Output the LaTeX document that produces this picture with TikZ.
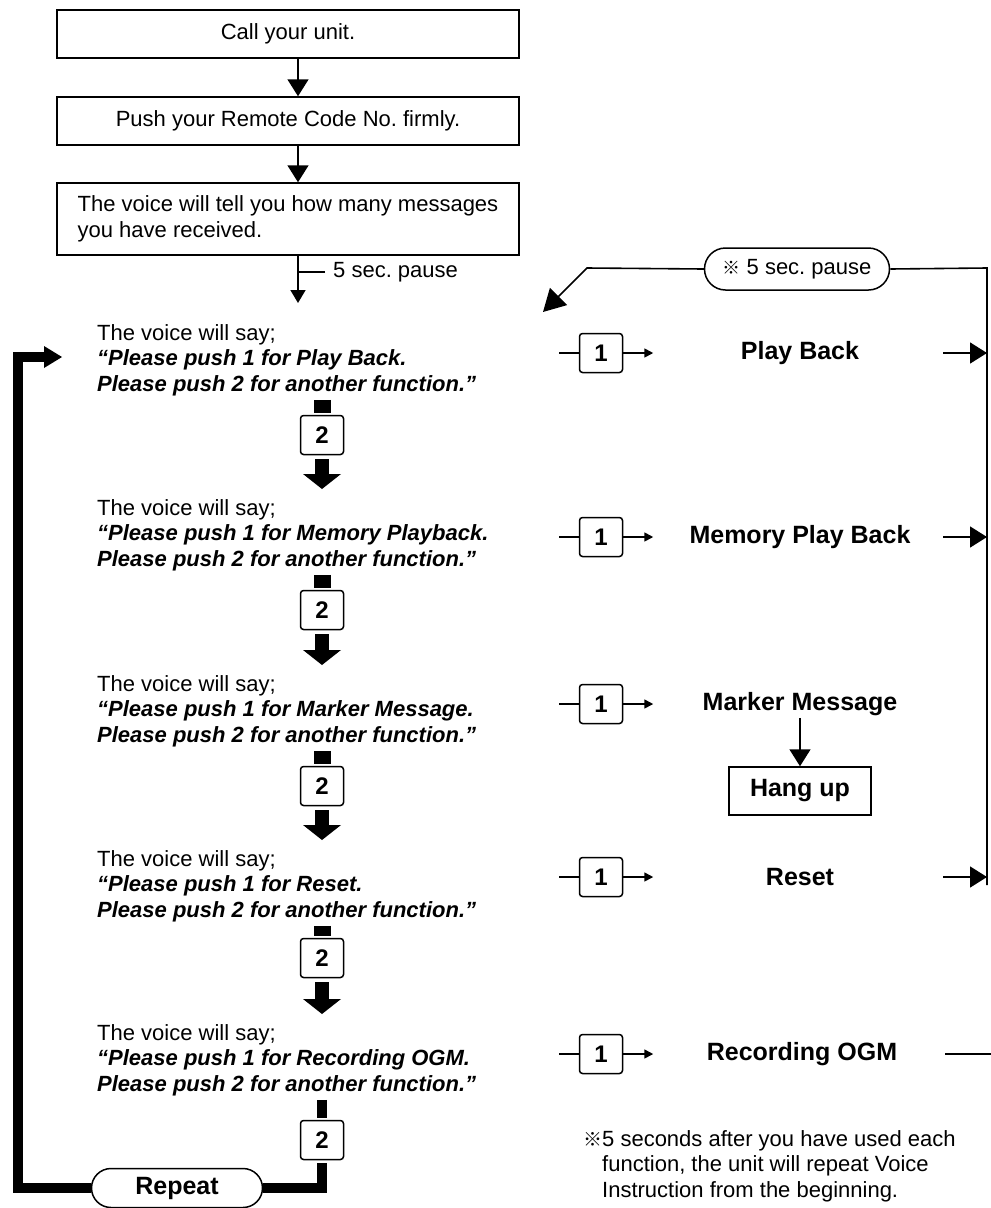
\documentclass[tikz,border=0pt]{standalone}
\usepackage{fontspec}
\setmainfont{Liberation Sans}
\newfontfamily\refmk{Noto Sans CJK JP}
\usetikzlibrary{arrows.meta,positioning,calc,shapes.misc}
\frenchspacing
\newcommand{\txt}{\fontsize{22}{25.5}\selectfont}
\newcommand{\fn}{\fontsize{25}{30}\selectfont\bfseries}
\newcommand{\bi}[1]{\textbf{\textit{#1}}}
\tikzset{
  caja/.style={draw, line width=1.5pt, minimum width=462pt, minimum height=48pt, inner sep=0pt, font=\txt},
  voz/.style={anchor=north west, align=left, inner sep=0pt, font=\txt},
  tecla/.style={draw, rounded corners=3pt, line width=1.5pt, minimum width=43pt, minimum height=39pt, inner sep=0pt, font=\fontsize{24}{28}\selectfont\bfseries},
  func/.style={inner sep=0pt, font=\fn},
  ovalo/.style={draw, rounded rectangle, line width=1.5pt, inner sep=0pt},
  fino/.style={line width=1.6pt},
  fl/.style={-{Triangle[length=17pt,width=21pt]}, line width=1.6pt},
  flp/.style={-{Triangle[length=13pt,width=15pt]}, line width=1.6pt},
  flc/.style={-{Triangle[length=9pt,width=9pt]}, line width=1.6pt},
  flg/.style={-{Triangle[length=22pt,width=24pt]}, line width=1.6pt},
  fg/.style={-{Triangle[length=15pt,width=38pt,line width=0pt]}, line width=14pt},
  tope/.style={line width=17pt},
  lazo/.style={line width=10pt},
}

\begin{document}
\begin{tikzpicture}[x=1pt, y=-1pt]
  \useasboundingbox (0,0) rectangle (991,1208);

  \node[caja] (llamar) at (288,34) {Call your unit.};
  \node[caja] (codigo) at (288,121) {Push your Remote Code No. firmly.};
  \node[caja, minimum height=72pt, align=left] (aviso) at (288,219) {The voice will tell you how many messages\\you have received.};
  \coordinate (eje) at (298,0);
  \coordinate (pausa1) at (298,303);
  \draw[fl] (llamar.south -| eje) -- (codigo.north -| eje);
  \draw[fl] (codigo.south -| eje) -- (aviso.north -| eje);
  \draw[flp] (aviso.south -| eje) -- (pausa1);
  \node[anchor=west, inner sep=0pt, font=\txt] (p5) at (333,272) {5 sec. pause};
  \draw[fino, shorten <=8pt] (p5.west) -- (p5.west -| eje);

  \node[voz] (voz1) at (97,324) {The voice will say;\\\bi{“Please push 1 for Play Back.}\\\bi{Please push 2 for another function.”}};
  \node[voz] (voz2) at (97,499) {The voice will say;\\\bi{“Please push 1 for Memory Playback.}\\\bi{Please push 2 for another function.”}};
  \node[voz] (voz3) at (97,675) {The voice will say;\\\bi{“Please push 1 for Marker Message.}\\\bi{Please push 2 for another function.”}};
  \node[voz] (voz4) at (97,850) {The voice will say;\\\bi{“Please push 1 for Reset.}\\\bi{Please push 2 for another function.”}};
  \node[voz] (voz5) at (97,1024) {The voice will say;\\\bi{“Please push 1 for Recording OGM.}\\\bi{Please push 2 for another function.”}};

  \node[tecla] (dos1) at (322,435) {2};
  \node[tecla] (dos2) at (322,610) {2};
  \node[tecla] (dos3) at (322,786) {2};
  \node[tecla] (dos4) at (322,958) {2};
  \node[tecla] (dos5) at (322,1140) {2};

  \draw[tope, shorten <=4pt, shorten >=2pt] (voz1.south -| dos1) -- (dos1.north);
  \draw[tope, shorten <=4pt, shorten >=2pt] (voz2.south -| dos2) -- (dos2.north);
  \draw[tope, shorten <=4pt, shorten >=2pt] (voz3.south -| dos3) -- (dos3.north);
  \draw[tope, shorten <=4pt, shorten >=2pt] (voz4.south -| dos4) -- (dos4.north);
  \draw[lazo, shorten <=4pt, shorten >=2pt] (voz5.south -| dos5) -- (dos5.north);
  \draw[fg, shorten <=4pt, shorten >=10pt] (dos1.south) -- (voz2.north -| dos1);
  \draw[fg, shorten <=4pt, shorten >=10pt] (dos2.south) -- (voz3.north -| dos2);
  \draw[fg, shorten <=4pt, shorten >=10pt] (dos3.south) -- (voz4.north -| dos3);
  \draw[fg, shorten <=4pt, shorten >=10pt] (dos4.south) -- (voz5.north -| dos4);

  \node[ovalo, font=\fn, minimum width=171pt, minimum height=39pt] (rep) at (177,1188) {Repeat};
  \coordinate (esq) at (18,1188);
  \coordinate (vuelta) at (62,357);
  \draw[lazo, shorten <=3pt] (dos5.south) |- (rep.east);
  \draw[lazo, -{Triangle[length=18pt,width=22pt,line width=0pt]}] (rep.west) -- (esq) |- (vuelta);

  \node[tecla] (uno1) at (601,353) {1};
  \node[tecla] (uno2) at (601,537) {1};
  \node[tecla] (uno3) at (601,704) {1};
  \node[tecla] (uno4) at (601,877) {1};
  \node[tecla] (uno5) at (601,1054) {1};
  \node[func] (f1) at (800,353) {Play Back};
  \node[func] (f2) at (800,537) {Memory Play Back};
  \node[func] (f3) at (800,704) {Marker Message};
  \node[func] (f4) at (800,877) {Reset};
  \node[func] (f5) at (802,1054) {Recording OGM};
  \node[draw, line width=1.5pt, minimum width=142pt, minimum height=48pt, inner sep=0pt, font=\fn] (colgar) at (800,791) {Hang up};

  \draw[fino] (uno1.west) -- ++(-20,0);
  \draw[fino] (uno2.west) -- ++(-20,0);
  \draw[fino] (uno3.west) -- ++(-20,0);
  \draw[fino] (uno4.west) -- ++(-20,0);
  \draw[fino] (uno5.west) -- ++(-20,0);
  \draw[flc] (uno1.east) -- ++(30,0);
  \draw[flc] (uno2.east) -- ++(30,0);
  \draw[flc] (uno3.east) -- ++(30,0);
  \draw[flc] (uno4.east) -- ++(30,0);
  \draw[flc] (uno5.east) -- ++(30,0);
  \draw[fl, shorten <=2pt] (f3) -- (colgar);

  \node[ovalo, font=\txt, minimum width=185pt, minimum height=42pt] (pausa) at (797,269) {{\refmk\fontsize{18}{20}\selectfont ※} 5 sec. pause};
  \coordinate (riel) at (987,268);
  \coordinate (rielfin) at (987,885);
  \coordinate (codo) at (587,268);
  \coordinate (entra) at (543,312);
  \draw[fino] (pausa.east) -- (riel) -- (rielfin);
  \draw[flg] (pausa.west) -- (codo) -- (entra);
  \draw[fl] ($(f1 -| riel)+(-44,0)$) -- (f1 -| riel);
  \draw[fl] ($(f2 -| riel)+(-44,0)$) -- (f2 -| riel);
  \draw[fl] ($(f4 -| riel)+(-44,0)$) -- (f4 -| riel);
  \draw[fino] ($(f5 -| riel)+(-42,0)$) -- ($(f5 -| riel)+(4,0)$);

  \node[anchor=north west, align=left, inner sep=0pt, font=\txt] (nota) at (583,1130) {\makebox[19pt][l]{\refmk\fontsize{19}{20}\selectfont ※}5 seconds after you have used each\\\hspace*{19pt}function, the unit will repeat Voice\\\hspace*{19pt}Instruction from the beginning.};
\end{tikzpicture}
\end{document}
